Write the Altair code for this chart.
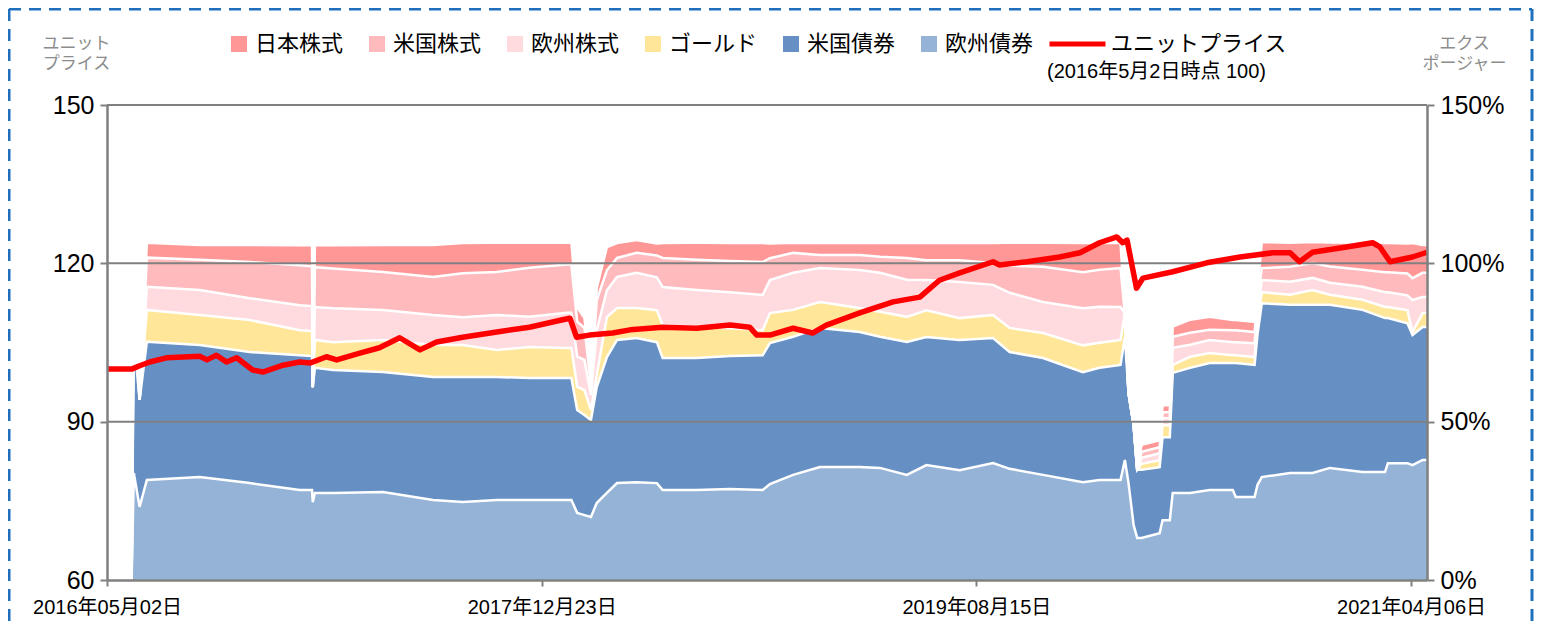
import altair as alt
import pandas as pd

# ---------------- data ----------------
dates = [
    "2016-06-05", "2016-06-08", "2016-06-16", "2016-06-26", "2016-09-07", "2016-11-15",
    "2017-01-23", "2017-02-09", "2017-02-10", "2017-02-13", "2017-03-10", "2017-05-18",
    "2017-07-26", "2017-09-05", "2017-10-22", "2017-12-06", "2018-01-27", "2018-02-02",
    "2018-02-10", "2018-02-20", "2018-03-01", "2018-03-09", "2018-03-23", "2018-04-06",
    "2018-05-03", "2018-05-31", "2018-06-08", "2018-07-25", "2018-09-09", "2018-10-24",
    "2018-11-03", "2018-12-05", "2019-01-11", "2019-03-07", "2019-04-04", "2019-05-11",
    "2019-06-07", "2019-07-23", "2019-09-07", "2019-09-30", "2019-11-15", "2020-01-09",
    "2020-02-01", "2020-03-01", "2020-03-07", "2020-03-12", "2020-03-19", "2020-03-24",
    "2020-03-30", "2020-04-24", "2020-04-28", "2020-05-08", "2020-05-12", "2020-06-05",
    "2020-07-02", "2020-08-03", "2020-08-07", "2020-09-02", "2020-09-06", "2020-09-12",
    "2020-10-21", "2020-11-21", "2020-12-15", "2021-01-29", "2021-03-01", "2021-03-05",
    "2021-04-01", "2021-04-08", "2021-04-22", "2021-04-28",
]
eu_bond = [
    0, 33.8, 23.1, 31.6, 32.5, 30.6,
    28.4, 28.4, 24.6, 27.5, 27.5, 27.8,
    25.3, 24.6, 25.3, 25.3, 25.3, 25.3,
    21.2, 20.5, 19.9, 24.3, 27.5, 30.6,
    30.9, 30.6, 28.4, 28.4, 28.7, 28.4,
    30.3, 33.2, 35.7, 35.7, 35.4, 33.2,
    36.3, 34.7, 36.9, 35.1, 33.2, 30.9,
    31.6, 31.6, 37.9, 30.6, 17.4, 13.3,
    13.3, 14.8, 18.9, 18.9, 27.5, 27.5,
    28.4, 28.4, 26.2, 26.2, 30.0, 32.5,
    33.8, 33.8, 35.4, 34.1, 34.1, 36.9,
    36.9, 36.3, 37.9, 37.9,
]
us_bond = [
    0, 42.9, 33.8, 43.6, 41.7, 41.4,
    42.6, 42.3, 36.3, 39.5, 38.8, 37.9,
    38.8, 39.5, 38.8, 38.5, 38.5, 38.5,
    32.5, 31.6, 30.6, 36.6, 42.9, 45.2,
    45.5, 44.5, 41.7, 41.7, 42.0, 42.6,
    44.5, 43.6, 43.9, 42.6, 41.4, 42.0,
    40.4, 41.1, 39.5, 36.9, 36.9, 34.7,
    35.4, 36.3, 38.8, 28.4, 31.6, 21.5,
    21.5, 20.8, 26.2, 26.2, 37.9, 39.5,
    40.1, 40.1, 42.3, 41.7, 47.4, 54.9,
    53.1, 53.1, 51.5, 51.2, 48.6, 45.8,
    44.2, 41.1, 42.0, 42.0,
]
gold = [
    0, 7.9, 0, 10.1, 9.5, 10.1,
    7.9, 7.9, 0, 8.8, 8.8, 10.1,
    10.1, 10.1, 8.5, 9.8, 9.5, 9.5,
    7.3, 7.9, 3.2, 3.8, 12.6, 10.1,
    9.5, 10.1, 10.4, 9.8, 8.8, 7.9,
    9.5, 8.5, 8.2, 7.6, 7.9, 7.9,
    8.5, 6.9, 7.3, 7.6, 7.9, 8.5,
    7.9, 7.9, 7.6, 0, 0, 0,
    1.9, 2.2, 3.8, 3.8, 2.5, 3.5,
    3.2, 2.5, 2.5, 2.5, 4.7, 3.5,
    3.2, 4.7, 3.2, 3.2, 3.5, 3.5,
    4.1, 0.9, 4.4, 4.4,
]
eu_equity = [
    0, 6.9, 0, 7.3, 7.9, 6.9,
    7.9, 7.9, 0, 10.4, 10.7, 9.5,
    9.5, 8.8, 11.1, 9.5, 11.1, 11.1,
    9.5, 9.5, 4.7, 14.2, 8.5, 9.8,
    11.1, 10.4, 12.0, 11.7, 11.4, 11.1,
    10.4, 11.7, 10.7, 12.0, 12.3, 11.7,
    9.5, 11.4, 9.5, 11.1, 9.8, 11.7,
    11.4, 10.4, 0, 0, 0, 0,
    1.9, 2.2, 2.2, 2.2, 5.4, 3.8,
    4.1, 4.1, 4.1, 4.4, 3.2, 3.8,
    4.1, 3.8, 3.8, 4.1, 4.7, 4.7,
    4.7, 10.1, 5.1, 5.1,
]
us_equity = [
    0, 9.5, 0, 9.2, 9.5, 11.4,
    12.6, 12.6, 0, 12.6, 12.6, 12.0,
    12.0, 13.9, 13.6, 15.5, 15.2, 15.2,
    11.1, 10.1, 3.2, 9.5, 6.3, 6.0,
    6.3, 6.9, 9.2, 9.5, 9.8, 10.4,
    6.9, 6.3, 4.1, 4.7, 5.1, 6.9,
    6.3, 6.9, 6.9, 8.5, 11.1, 11.4,
    11.7, 12.3, 0, 0, 0, 0,
    1.9, 1.9, 1.9, 1.9, 3.5, 3.8,
    3.2, 3.8, 3.8, 3.5, 3.2, 3.8,
    4.7, 4.7, 5.1, 5.4, 6.3, 6.3,
    6.9, 6.9, 7.6, 7.6,
]
jp_equity = [
    0, 4.7, 0, 4.7, 4.7, 5.4,
    6.3, 6.6, 0, 6.9, 7.3, 8.5,
    10.1, 9.5, 9.2, 7.9, 6.9, 6.9,
    4.4, 3.2, 1.6, 3.8, 7.3, 4.7,
    4.1, 3.8, 4.7, 5.4, 5.7, 6.0,
    4.7, 3.2, 3.8, 3.8, 4.4, 4.7,
    5.4, 5.4, 6.3, 7.3, 7.6, 9.2,
    8.5, 7.9, 0, 0, 0, 0,
    2.2, 2.2, 2.2, 2.2, 3.2, 4.1,
    4.1, 3.2, 3.2, 3.2, 3.2, 8.2,
    7.6, 6.6, 7.6, 8.5, 9.2, 9.2,
    9.5, 11.1, 8.8, 8.8,
]

price_dates = [
    "2016-05-02", "2016-06-06", "2016-06-16", "2016-06-30", "2016-07-23", "2016-09-07",
    "2016-09-17", "2016-09-30", "2016-10-14", "2016-10-28", "2016-11-19", "2016-12-03",
    "2016-12-31", "2017-01-23", "2017-02-06", "2017-03-01", "2017-03-15", "2017-04-16",
    "2017-05-13", "2017-06-10", "2017-07-08", "2017-07-31", "2017-09-05", "2017-10-22",
    "2017-12-06", "2018-01-21", "2018-01-31", "2018-02-09", "2018-02-27", "2018-03-31",
    "2018-04-24", "2018-06-08", "2018-07-25", "2018-09-09", "2018-10-06", "2018-10-16",
    "2018-11-03", "2018-12-05", "2019-01-01", "2019-01-20", "2019-03-07", "2019-04-22",
    "2019-05-29", "2019-06-25", "2019-07-23", "2019-09-07", "2019-09-16", "2019-10-24",
    "2019-12-08", "2020-01-05", "2020-02-01", "2020-02-25", "2020-03-04", "2020-03-10",
    "2020-03-23", "2020-04-01", "2020-05-12", "2020-06-28", "2020-08-13", "2020-09-27",
    "2020-10-21", "2020-11-03", "2020-11-21", "2021-01-07", "2021-02-12", "2021-02-22",
    "2021-03-08", "2021-04-08", "2021-04-28",
]
price_values = [
    100.0, 100.0, 100.6, 101.3, 102.1, 102.4,
    101.7, 102.6, 101.3, 102.1, 99.8, 99.4,
    100.7, 101.3, 101.1, 102.3, 101.7, 103.0,
    104.0, 105.9, 103.6, 105.1, 106.0, 107.0,
    107.9, 109.3, 109.6, 106.0, 106.4, 106.8,
    107.4, 107.9, 107.7, 108.3, 107.9, 106.4,
    106.4, 107.7, 106.8, 108.3, 110.6, 112.7,
    113.6, 116.8, 118.2, 120.3, 119.7, 120.3,
    121.2, 122.0, 123.9, 125.0, 123.9, 124.4,
    115.3, 117.2, 118.4, 120.1, 121.2, 122.0,
    122.0, 120.3, 122.1, 123.1, 123.9, 123.1,
    120.3, 121.2, 122.1,
]

series_names = ["日本株式", "米国株式", "欧州株式", "ゴールド", "米国債券", "欧州債券"]
series_colors = ["#FF9797", "#FFBABD", "#FFDADF", "#FFE699", "#6690C4", "#95B3D7"]
stack_series = ["欧州債券", "米国債券", "ゴールド", "欧州株式", "米国株式", "日本株式"]
price_label = "ユニットプライス"
price_note = "(2016年5月2日時点 100)"

x_ticks = ["2016-05-02", "2017-12-23", "2019-08-15", "2021-04-06"]
x_domain = ["2016-05-02", "2021-04-28"]
price_ticks = [60, 90, 120, 150]
exposure_ticks = [0, 50, 100, 150]
grid_values = [90, 120, 150]

# ---------------- tables ----------------
columns = {
    "欧州債券": eu_bond, "米国債券": us_bond, "ゴールド": gold,
    "欧州株式": eu_equity, "米国株式": us_equity, "日本株式": jp_equity,
}
rows = []
for name in stack_series:
    for d, v in zip(dates, columns[name]):
        rows.append({"date": d, "series": name, "value": v, "order": stack_series.index(name)})
exp_df = pd.DataFrame(rows)
price_df = pd.DataFrame({"date": price_dates, "price": price_values, "label": price_label})
grid_df = pd.DataFrame({"price": grid_values})


def dt(s):
    y, m, d = (int(p) for p in s.split("-"))
    return alt.DateTime(year=y, month=m, date=d, utc=True)


LATIN = "Liberation Sans, Noto Sans CJK JP"
CJK = "Noto Sans CJK JP"
GREY = "#808080"

x_enc = alt.X(
    "date:T",
    scale=alt.Scale(type="utc", domain=[dt(x_domain[0]), dt(x_domain[1])], nice=False),
    axis=alt.Axis(
        values=[dt(s) for s in x_ticks],
        labelExpr="utcFormat(datum.value, '%Y年%m月%d日')",
        title=None, grid=False, labelFontSize=20, labelFont=LATIN, labelColor="black",
        labelBaseline="top", labelPadding=11, labelFlush=False, labelAlign="center",
        tickSize=6, tickColor=GREY, tickWidth=2,
        domainColor=GREY, domainWidth=2.5, labelOverlap=False, zindex=1,
    ),
)

exp_scale = alt.Scale(domain=[0, 150], nice=False, zero=True)
exp_axis = alt.Axis(
    orient="right", values=exposure_ticks, labelExpr="datum.value + '%'", grid=False,
    title=["エクス", "ポージャー"], titleAngle=0, titleAlign="center", titleBaseline="top",
    titleX=37, titleY=-70, titleFontSize=17, titleFont=CJK, titleColor="#8C8C8C",
    titleFontWeight="normal", titleLineHeight=20,
    labelFontSize=25, labelFont=LATIN, labelColor="black", labelPadding=6,
    tickSize=7, tickColor=GREY, tickWidth=2, domainColor=GREY, domainWidth=2.5, zindex=1,
)
price_scale = alt.Scale(domain=[60, 150], nice=False, zero=False)
price_axis = alt.Axis(
    orient="left", values=price_ticks, grid=False,
    title=["ユニット", "プライス"], titleAngle=0, titleAlign="center", titleBaseline="top",
    titleX=-31, titleY=-70, titleFontSize=17, titleFont=CJK, titleColor="#8C8C8C",
    titleFontWeight="normal", titleLineHeight=20,
    labelFontSize=25, labelFont=LATIN, labelColor="black", labelPadding=6,
    tickSize=7, tickColor=GREY, tickWidth=2, domainColor=GREY, domainWidth=2.5, zindex=1,
)

base = alt.Chart(exp_df).transform_stack(
    stack="value", groupby=["date"], sort=[alt.SortField("order", order="ascending")],
    as_=["v0", "v1"],
)

areas = base.mark_area(opacity=1).encode(
    x=x_enc,
    y=alt.Y("v1:Q", scale=exp_scale, axis=exp_axis),
    y2="v0:Q",
    color=alt.Color(
        "series:N",
        scale=alt.Scale(domain=series_names, range=series_colors),
        legend=alt.Legend(
            orient="none", legendX=121, legendY=-72, direction="horizontal", title=None,
            symbolType="square", symbolSize=256, symbolStrokeWidth=0, symbolOpacity=1,
            labelFontSize=22, labelFont=CJK, labelColor="black", labelOffset=5,
            columnPadding=22, clipHeight=22, labelLimit=300,
        ),
    ),
)

separators = base.mark_line(color="white", strokeWidth=2.5).encode(
    x=x_enc,
    y=alt.Y("v1:Q", scale=exp_scale, axis=exp_axis),
    detail="series:N",
)

grid = alt.Chart(grid_df).mark_rule(color=GREY, strokeWidth=2).encode(
    y=alt.Y("price:Q", scale=price_scale, axis=price_axis),
)

price_line = alt.Chart(price_df).mark_line(strokeWidth=5.5, strokeJoin="round").encode(
    x=x_enc,
    y=alt.Y("price:Q", scale=price_scale, axis=price_axis),
    color=alt.Color(
        "label:N",
        scale=alt.Scale(domain=[price_label], range=["#FF0000"]),
        legend=alt.Legend(
            orient="none", legendX=940, legendY=-72, direction="horizontal",
            title=price_note, titleOrient="bottom", titleAnchor="start",
            titleFontSize=20, titleFontWeight="normal", titleColor="black",
            titleFont=LATIN, titlePadding=7, titleLimit=400,
            symbolType="stroke", symbolSize=3136, symbolStrokeWidth=5,
            labelFontSize=22, labelFont=CJK, labelColor="black", labelOffset=3,
            clipHeight=22, labelLimit=300,
        ),
    ),
)

border_data = alt.Data(values=[{"k": 0}])
dash = dict(color="#1F6FBF", strokeWidth=3, strokeDash=[12, 8])
border_top = alt.Chart(border_data).mark_rule(**dash).encode(
    x=alt.value(-98), x2=alt.value(1425), y=alt.value(-96), y2=alt.value(-96))
border_left = alt.Chart(border_data).mark_rule(**dash).encode(
    x=alt.value(-98), x2=alt.value(-98), y=alt.value(-96), y2=alt.value(540))
border_right = alt.Chart(border_data).mark_rule(**dash).encode(
    x=alt.value(1425), x2=alt.value(1425), y=alt.value(-96), y2=alt.value(540))

exposure_layer = alt.layer(areas, separators)
price_layer = alt.layer(grid, price_line)

chart = (
    alt.layer(exposure_layer, price_layer, border_top, border_left, border_right)
    .resolve_scale(y="independent", color="independent")
    .properties(
        width=1320, height=475,
        padding={"left": 99, "top": 97, "right": 110, "bottom": 42},
        autosize=alt.AutoSizeParams(type="none"),
    )
    .configure_view(stroke="transparent")
)

chart.save("out.html", embed_options={"renderer": "svg", "actions": False})
